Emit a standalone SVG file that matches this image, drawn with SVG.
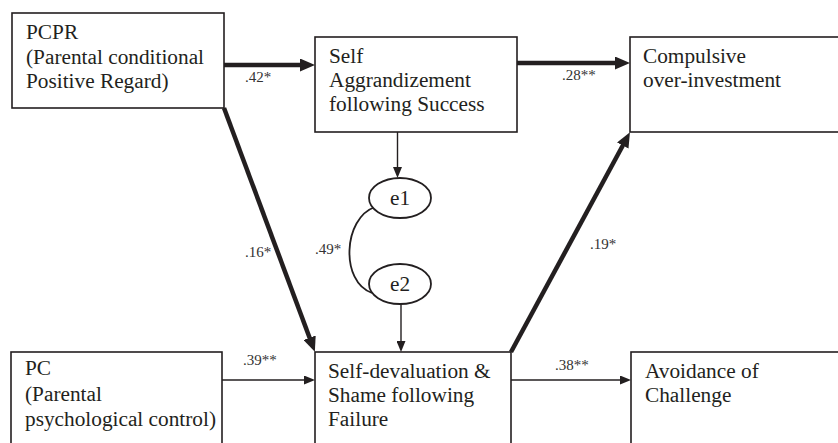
<svg xmlns="http://www.w3.org/2000/svg" width="838" height="443" viewBox="0 0 838 443" font-family="'Liberation Serif', 'Times New Roman', serif">
<style>
.box{fill:#fff;stroke:#231f20;stroke-width:1.6}
.t{font-family:'Liberation Serif','Times New Roman',serif;font-size:21.3px;fill:#231f20}
.lbl{font-family:'Liberation Serif','Times New Roman',serif;font-size:15px;fill:#333}
.thick{stroke:#231f20;stroke-width:4.5;fill:none}
.thin{stroke:#231f20;stroke-width:1.4;fill:none}
.ell{fill:#fff;stroke:#231f20;stroke-width:1.8}
</style>
<defs>
<marker id="ah" markerUnits="userSpaceOnUse" markerWidth="15" markerHeight="13" refX="4" refY="6.5" orient="auto">
<path d="M0,0 L15,6.5 L0,13 z" fill="#231f20"/>
</marker>
<marker id="as" markerUnits="userSpaceOnUse" markerWidth="11" markerHeight="9" refX="2" refY="4.5" orient="auto">
<path d="M0,0 L11,4.5 L0,9 z" fill="#231f20"/>
</marker>
</defs>
<rect width="838" height="443" fill="#fff"/>
<g id="connectors">
<line class="thick" x1="224" y1="65" x2="304" y2="65" marker-end="url(#ah)"/>
<line class="thick" x1="517" y1="63" x2="619" y2="63" marker-end="url(#ah)"/>
<line class="thick" x1="224" y1="108" x2="311" y2="341.5" marker-end="url(#ah)"/>
<line class="thick" x1="511" y1="352" x2="624.7" y2="142" marker-end="url(#ah)"/>
<line class="thin" x1="397.5" y1="132" x2="397.5" y2="169" marker-end="url(#as)"/>
<line class="thin" x1="401" y1="304" x2="401" y2="343" marker-end="url(#as)"/>
<line class="thin" x1="222" y1="380" x2="306" y2="380" marker-end="url(#as)"/>
<line class="thin" x1="511" y1="380" x2="622" y2="380" marker-end="url(#as)"/>
<path class="thin" d="M375,207 C343,218 340,282 372,293" style="stroke-width:1.8"/>
<text class="lbl" x="245" y="82">.42*</text>
<text class="lbl" x="562" y="80">.28**</text>
<text class="lbl" x="245" y="257">.16*</text>
<text class="lbl" x="315" y="254">.49*</text>
<text class="lbl" x="590" y="249">.19*</text>
<text class="lbl" x="243" y="365">.39**</text>
<text class="lbl" x="555" y="370">.38**</text>
</g>
<g id="pcpr">
<rect class="box" x="12" y="13" width="212" height="95"/>
<text class="t" x="26" y="39">PCPR</text>
<text class="t" x="26" y="64">(Parental conditional</text>
<text class="t" x="26" y="88">Positive Regard)</text>
</g>
<g id="self-aggrandizement">
<rect class="box" x="315" y="37" width="202" height="95"/>
<text class="t" x="329" y="63">Self</text>
<text class="t" x="329" y="87">Aggrandizement</text>
<text class="t" x="329" y="111">following Success</text>
</g>
<g id="compulsive">
<rect class="box" x="630" y="37" width="230" height="95"/>
<text class="t" x="643" y="63">Compulsive</text>
<text class="t" x="643" y="87">over-investment</text>
</g>
<g id="e1">
<ellipse class="ell" cx="400" cy="198" rx="31" ry="20"/>
<text class="t" x="400" y="205" text-anchor="middle">e1</text>
</g>
<g id="e2">
<ellipse class="ell" cx="400" cy="284" rx="31" ry="20"/>
<text class="t" x="400" y="291" text-anchor="middle">e2</text>
</g>
<g id="pc">
<rect class="box" x="11" y="352" width="211" height="110"/>
<text class="t" x="25" y="375">PC</text>
<text class="t" x="25" y="401">(Parental</text>
<text class="t" x="25" y="426">psychological control)</text>
</g>
<g id="self-devaluation">
<rect class="box" x="315" y="352" width="196" height="110"/>
<text class="t" x="328" y="378">Self-devaluation &amp;</text>
<text class="t" x="328" y="402">Shame following</text>
<text class="t" x="328" y="426">Failure</text>
</g>
<g id="avoidance">
<rect class="box" x="631" y="352" width="230" height="110"/>
<text class="t" x="645" y="378">Avoidance of</text>
<text class="t" x="645" y="402">Challenge</text>
</g>
</svg>
